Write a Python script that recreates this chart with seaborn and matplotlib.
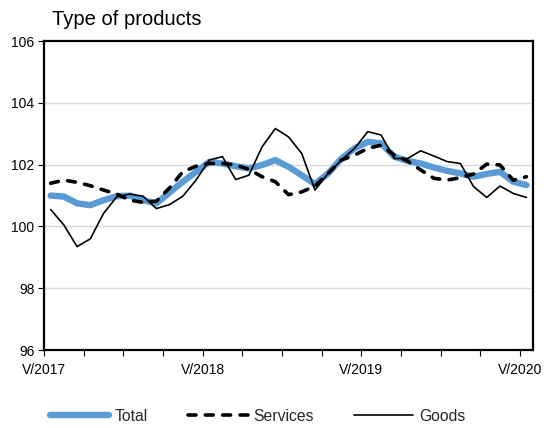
import numpy as np
import pandas as pd
import matplotlib
matplotlib.use("Agg")
import matplotlib.pyplot as plt
import seaborn as sns

roman = ["I", "II", "III", "IV", "V", "VI", "VII", "VIII", "IX", "X", "XI", "XII"]
months = [f"{roman[(4 + k) % 12]}/{2017 + (4 + k) // 12}" for k in range(37)]

total = [101.0, 100.97, 100.75, 100.69, 100.85, 100.98, 101.0, 100.85, 100.75, 101.1,
         101.45, 101.77, 102.09, 102.04, 101.95, 101.88, 101.99, 102.15, 101.93, 101.66,
         101.37, 101.72, 102.2, 102.53, 102.74, 102.69, 102.26, 102.12, 102.04, 101.91,
         101.8, 101.72, 101.61, 101.7, 101.77, 101.45, 101.34]
services = [101.4, 101.5, 101.43, 101.32, 101.18, 101.05, 100.85, 100.78, 100.82, 101.25,
            101.77, 101.95, 102.04, 102.04, 101.99, 101.85, 101.61, 101.45, 101.03, 101.12,
            101.31, 101.72, 102.15, 102.31, 102.53, 102.63, 102.31, 102.12, 101.83, 101.56,
            101.5, 101.58, 101.7, 102.02, 101.99, 101.5, 101.61]
goods = [100.55, 100.05, 99.35, 99.6, 100.42, 100.96, 101.05, 100.98, 100.58, 100.71,
         100.98, 101.5, 102.15, 102.26, 101.52, 101.66, 102.58, 103.17, 102.9, 102.36,
         101.18, 101.72, 102.15, 102.53, 103.07, 102.96, 102.2, 102.2, 102.45, 102.28,
         102.1, 102.04, 101.29, 100.94, 101.31, 101.07, 100.94]

series_names = ["Total", "Services", "Goods"]
tick_labels = ["V/2017", "V/2018", "V/2019", "V/2020"]
y_ticks = [96, 98, 100, 102, 104, 106]

df = pd.DataFrame({"month": months, "Total": total, "Services": services, "Goods": goods})
df["pos"] = np.arange(len(months)) + 0.5

sns.set_theme(style="white")
plt.rcParams["font.family"] = ["Liberation Sans", "DejaVu Sans"]

fig = plt.figure(figsize=(5.51, 4.28), dpi=100)
ax = fig.add_axes([0.0799, 0.182, 0.8875, 0.722])

for y in y_ticks[1:-1]:
    ax.axhline(y, color="#d9d9d9", lw=1.0, zorder=0)

sns.lineplot(data=df, x="pos", y="Total", ax=ax, color="#5b9bd5", lw=4.6,
             solid_capstyle="round", label="Total", zorder=2)
sns.lineplot(data=df, x="pos", y="Services", ax=ax, color="black", lw=2.6,
             linestyle=(0, (2.2, 2.6)), dash_capstyle="round", label="Services", zorder=3)
sns.lineplot(data=df, x="pos", y="Goods", ax=ax, color="black", lw=1.2,
             label="Goods", zorder=4)

ax.set_xlim(0, 37)
ax.set_ylim(96, 106)
ax.set_xticks(np.arange(0, 37, 3))
ax.set_xticklabels([tick_labels[i // 12] if i % 12 == 0 else "" for i in range(0, 37, 3)])
ax.set_yticks(y_ticks)
ax.set_yticklabels([str(v) for v in y_ticks])
ax.set_xlabel("")
ax.set_ylabel("")

ax.tick_params(axis="both", which="major", direction="out", length=4, width=0.8,
               color="black", labelsize=10, labelcolor="black", bottom=True, left=True)
ax.tick_params(axis="x", pad=5.5)
ax.tick_params(axis="y", pad=3)
for s in ax.spines.values():
    s.set_visible(True)
    s.set_color("black")
    s.set_linewidth(1.6)

fig.text(0.094, 0.933, "Type of products", fontsize=14.5, color="black", ha="left", va="bottom")

handles, labels = ax.get_legend_handles_labels()
if ax.legend_:
    ax.legend_.remove()
fig.legend(handles, labels, loc="center", bbox_to_anchor=(0.467, 0.028), ncol=3, frameon=False,
           fontsize=11.3, handlelength=3.8, handletextpad=0.35, columnspacing=2.55)

fig.savefig("out.png", dpi=100)
